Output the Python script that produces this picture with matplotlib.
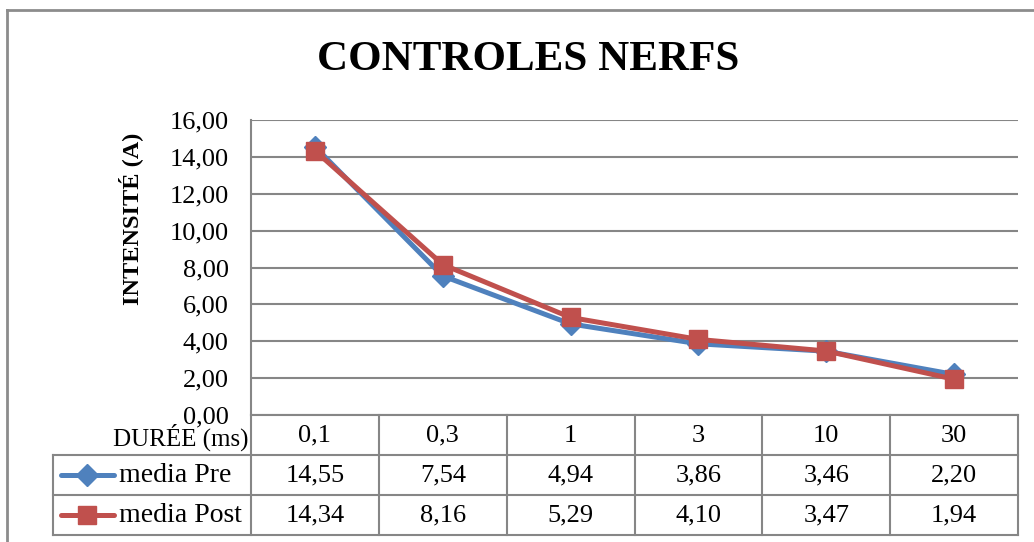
import matplotlib.pyplot as plt
import matplotlib.ticker as ticker
from matplotlib.lines import Line2D

# Data
durations = ['0,1', '0,3', '1', '3', '10', '30']
media_pre = [14.55, 7.54, 4.94, 3.86, 3.46, 2.20]
media_post = [14.34, 8.16, 5.29, 4.10, 3.47, 1.94]
series_names = ['media Pre', 'media Post']
y_ticks = [0, 2, 4, 6, 8, 10, 12, 14, 16]

blue = '#4F81BD'
red = '#C0504D'
grid_gray = '#868686'

plt.rcParams['font.family'] = ['Liberation Serif', 'DejaVu Serif']

W, H = 1034, 542
fig = plt.figure(figsize=(W / 100, H / 100), dpi=100)


def fx(px):
    return px / W


def fy(py):
    return (H - py) / H


# Outer chart border (left + top only visible)
fig.add_artist(Line2D([fx(7), fx(7)], [fy(10), 0], transform=fig.transFigure,
                      color='#8c8c8c', lw=2))
fig.add_artist(Line2D([fx(7), 1], [fy(10), fy(10)], transform=fig.transFigure,
                      color='#8c8c8c', lw=2))

# Main plot area
left, right, top, bottom = 251, 1018, 120, 415
ax = fig.add_axes([fx(left), fy(bottom), fx(right - left), (bottom - top) / H])
x = list(range(len(durations)))

ax.plot(x, media_pre, color=blue, lw=3.6, marker='D', ms=11,
        markerfacecolor=blue, markeredgecolor=blue, solid_joinstyle='round', zorder=3)
ax.plot(x, media_post, color=red, lw=3.6, marker='s', ms=13,
        markerfacecolor=red, markeredgecolor=red, solid_joinstyle='round', zorder=4)

ax.set_xlim(-0.5, len(durations) - 0.5)
ax.set_ylim(0, 16)
ax.set_yticks(y_ticks)
ax.yaxis.set_major_formatter(ticker.FuncFormatter(lambda v, p: f"{v:.2f}".replace('.', ',')))
ax.set_xticks([])
ax.tick_params(axis='y', length=0, pad=16, labelsize=19)
ax.grid(True, axis='y', color=grid_gray, lw=1.5)
ax.set_axisbelow(True)
for s in ['top', 'right', 'bottom']:
    ax.spines[s].set_visible(False)
ax.spines['left'].set_color(grid_gray)
ax.spines['left'].set_linewidth(1.5)

# Data table under the plot
tab_bottom = 535
tax = fig.add_axes([fx(left), fy(tab_bottom), fx(right - left), (tab_bottom - bottom) / H])
tax.set_xlim(-0.5, len(durations) - 0.5)
tax.set_ylim(3, 0)
tax.axis('off')

col_w = (right - left) / len(durations)
leg_left = -0.5 + (53 - left) / col_w
line_kw = dict(color=grid_gray, lw=1.5, clip_on=False)

# horizontal lines
tax.plot([-0.5, len(durations) - 0.5], [0, 0], **line_kw)
for r in [1, 2, 3]:
    tax.plot([leg_left, len(durations) - 0.5], [r, r], **line_kw)
# vertical lines
for c in range(len(durations) + 1):
    tax.plot([c - 0.5, c - 0.5], [0, 3], **line_kw)
tax.plot([leg_left, leg_left], [1, 3], **line_kw)

tax.text(-0.52, 0.55, 'DURÉE (ms)', ha='right', va='center', fontsize=18, clip_on=False)
for i, d in enumerate(durations):
    tax.text(i, 0.52, d, ha='center', va='center', fontsize=19)

for r, (name, vals, col, mk, ms) in enumerate(
        [(series_names[0], media_pre, blue, 'D', 11),
         (series_names[1], media_post, red, 's', 13)], start=1):
    ky = r + 0.5
    tax.plot([-1.99, -1.57], [ky, ky], color=col, lw=3.6, solid_capstyle='round', clip_on=False)
    tax.plot([-1.78], [ky], color=col, marker=mk, ms=ms, clip_on=False)
    tax.text(-1.535, ky + 0.02, name, ha='left', va='center', fontsize=20, clip_on=False)
    for i, v in enumerate(vals):
        tax.text(i, ky + 0.02, f"{v:.2f}".replace('.', ','), ha='center', va='center', fontsize=19)

# Titles
fig.text(fx(528), fy(60), 'CONTROLES NERFS', ha='center', va='center',
         fontsize=31, fontweight='bold')
fig.text(fx(131), fy(219), 'INTENSITÉ (A)', ha='center', va='center',
         rotation=90, fontsize=17.5, fontweight='bold')

fig.savefig('out.png', dpi=100)
